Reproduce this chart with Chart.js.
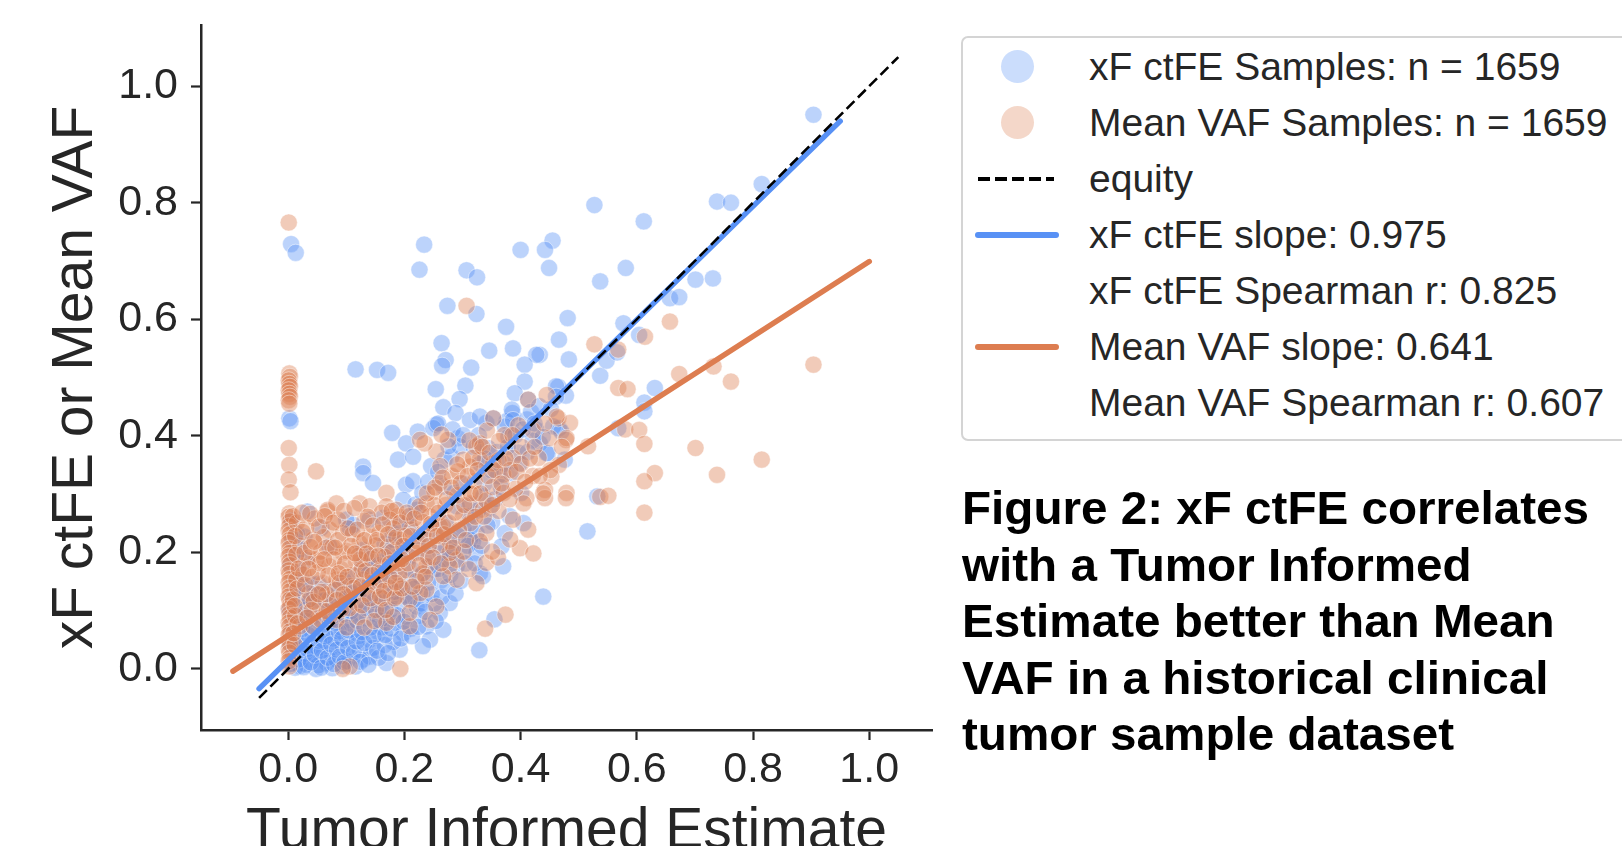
<!DOCTYPE html>
<html>
<head>
<meta charset="utf-8">
<script src="https://cdn.jsdelivr.net/npm/chart.js@4.4.1/dist/chart.umd.min.js"></script>
<style>
html,body{margin:0;padding:0;width:1622px;height:846px;overflow:hidden;background:#ffffff;}
#wrap{position:absolute;left:0;top:0;width:1622px;height:900px;}
#legendBox{position:absolute;left:961px;top:36px;width:700px;height:405px;border:2.5px solid #d4d4d4;border-radius:7px;box-sizing:border-box;background:#fff;}
.lrow{position:absolute;left:1089px;height:56px;line-height:56px;font-family:"Liberation Sans",Arial,sans-serif;font-size:39px;color:#262626;white-space:nowrap;}
.dot{position:absolute;width:33px;height:33px;border-radius:50%;}
.ln{position:absolute;height:6px;border-radius:3px;}
.dash{position:absolute;height:3.5px;background:#000;}
#caption{position:absolute;left:962px;top:480px;font-family:"Liberation Sans",Arial,sans-serif;font-weight:bold;font-size:46px;line-height:56.6px;color:#000;white-space:nowrap;transform-origin:0 0;transform:scaleX(1.035);}
</style>
</head>
<body>
<div id="wrap"><canvas id="c" width="1622" height="900"></canvas></div>
<div id="legendBox"></div>
<div id="legend"></div>
<div id="caption"></div>
<script>
// ---------------- data ----------------
const xTicks = [0.0, 0.2, 0.4, 0.6, 0.8, 1.0];
const yTicks = [0.0, 0.2, 0.4, 0.6, 0.8, 1.0];
const xTitle = 'Tumor Informed Estimate';
const yTitle = 'xF ctFE or Mean VAF';

// xF ctFE samples [tumor informed estimate, xF ctFE]
const xfPoints = [
[0.904,0.951],[0.815,0.832],[0.738,0.802],[0.762,0.800],[0.527,0.796],[0.612,0.768],[0.455,0.735],[0.442,0.719],[0.449,0.688],[0.581,0.688],
[0.537,0.665],[0.701,0.668],[0.731,0.670],[0.657,0.636],[0.673,0.638],[0.481,0.602],[0.577,0.593],[0.466,0.565],[0.433,0.539],[0.483,0.531],
[0.537,0.503],[0.548,0.529],[0.566,0.543],[0.604,0.573],[0.631,0.482],[0.613,0.457],[0.613,0.442],[0.465,0.484],[0.478,0.469],[0.568,0.413],
[0.466,0.413],[0.447,0.370],[0.476,0.359],[0.532,0.296],[0.515,0.236],
[0.005,0.729],[0.013,0.714],[0.234,0.728],[0.226,0.685],[0.307,0.684],[0.325,0.672],[0.400,0.719],[0.274,0.623],[0.324,0.609],[0.375,0.587],
[0.264,0.559],[0.346,0.546],[0.387,0.550],[0.427,0.539],[0.271,0.530],[0.265,0.520],[0.315,0.517],[0.407,0.522],[0.116,0.514],[0.153,0.513],
[0.172,0.508],[0.254,0.480],[0.305,0.486],[0.407,0.493],[0.461,0.485],[0.295,0.463],[0.267,0.449],[0.288,0.439],[0.390,0.473],[0.386,0.439],
[0.002,0.430],[0.004,0.425],[0.179,0.405],[0.223,0.407],[0.255,0.419],[0.313,0.427],[0.341,0.422],[0.376,0.425],[0.413,0.462],[0.461,0.467],
[0.203,0.387],[0.250,0.413],[0.258,0.421],[0.330,0.433],[0.353,0.430],[0.373,0.416],[0.385,0.445],[0.387,0.427],[0.427,0.410],[0.433,0.387],
[0.445,0.370],[0.456,0.416],[0.470,0.407],[0.292,0.396],[0.269,0.359],[0.281,0.364],[0.295,0.382],[0.189,0.359],[0.215,0.364],[0.203,0.316],
[0.215,0.322],[0.198,0.290],[0.221,0.273],[0.267,0.313],[0.290,0.279],[0.313,0.262],[0.336,0.296],[0.347,0.276],[0.324,0.233],[0.318,0.219],
[0.301,0.199],[0.373,0.233],[0.367,0.210],[0.370,0.176],[0.405,0.250],[0.330,0.164],[0.290,0.176],[0.250,0.170],[0.227,0.159],[0.200,0.210],
[0.180,0.233],[0.243,0.210],[0.272,0.210],[0.439,0.124],[0.129,0.347],[0.129,0.336],[0.146,0.319],[0.033,0.270],[0.355,0.085],[0.329,0.032],
[0.057,0.242],[0.028,0.227],[0.106,0.242],[0.112,0.247],[0.140,0.256],[0.163,0.259],[0.031,0.187],[0.020,0.204],[0.209,0.244],[0.226,0.227],
[0.313,0.222],[0.324,0.199],[0.335,0.159],[0.278,0.187],[0.244,0.176],[0.209,0.153],[0.192,0.142],[0.169,0.130],[0.157,0.107],[0.140,0.119],
[0.169,0.084],[0.186,0.079],[0.198,0.061],[0.157,0.061],[0.238,0.073],[0.244,0.050],[0.267,0.067],[0.278,0.113],[0.261,0.096],[0.169,0.010],
[0.123,0.096],[0.117,0.061],[0.100,0.050],[0.083,0.061],[0.071,0.033],[0.054,0.021],[0.037,0.016],[0.020,0.005],[0.008,0.021],[0.002,0.044],
[0.014,0.073],[0.025,0.050],[0.043,0.039],[0.066,0.010],[0.083,0.016],[0.106,0.021],[0.123,0.033],[0.129,0.016],[0.094,0.005],[0.048,0.000],
[0.031,0.007],[0.140,0.050],[0.140,0.021],[0.094,0.039],[0.060,0.061],[0.043,0.090],[0.002,0.101],[0.025,0.107],[0.083,0.101],[0.106,0.084],
[0.094,0.119],[0.071,0.136],[0.037,0.147],[0.112,0.159],[0.140,0.176],[0.175,0.159],[0.169,0.187],[0.209,0.193],[0.215,0.119],[0.203,0.090],
[0.221,0.107],[0.175,0.119],[0.192,0.033],[0.232,0.039],[0.129,0.204],[0.071,0.210],[0.100,0.256],
[0.010,0.011],[0.016,0.032],[0.029,0.026],[0.051,0.036],[0.062,0.046],[0.077,0.052],[0.091,0.071],[0.109,0.077],[0.121,0.056],[0.136,0.087],
[0.151,0.094],[0.161,0.071],[0.176,0.101],[0.181,0.046],[0.201,0.126],[0.211,0.069],[0.226,0.091],[0.231,0.131],[0.252,0.112],[0.262,0.151],
[0.005,0.062],[0.008,0.081],[0.006,0.122],[0.011,0.151],[0.004,0.178],[0.007,0.221],[0.012,0.002],[0.052,0.006],[0.076,0.001],[0.101,0.013],
[0.116,0.004],[0.146,0.036],[0.156,0.019],[0.166,0.041],[0.191,0.111],[0.061,0.076],[0.082,0.079],[0.099,0.092],[0.041,0.061],[0.031,0.082],
[0.021,0.121],[0.049,0.118],[0.069,0.097],[0.121,0.131],[0.132,0.114],[0.151,0.141],[0.162,0.158],[0.186,0.171],[0.196,0.199],[0.212,0.171],
[0.236,0.196],[0.251,0.238],[0.271,0.251],[0.286,0.302],[0.302,0.318],[0.311,0.281],[0.331,0.352],[0.344,0.379],[0.361,0.331],[0.379,0.398],
[0.396,0.371],[0.411,0.428],[0.421,0.392],[0.351,0.252],[0.401,0.302],[0.381,0.262],[0.302,0.241],[0.281,0.222],[0.262,0.198],
[0.004,0.008],[0.009,0.037],[0.013,0.055],[0.018,0.016],[0.022,0.042],[0.024,0.068],[0.027,0.003],[0.033,0.034],[0.035,0.058],[0.039,0.011],
[0.044,0.071],[0.046,0.024],[0.053,0.048],[0.057,0.002],[0.058,0.031],[0.064,0.056],[0.068,0.019],[0.072,0.081],[0.074,0.042],[0.079,0.008],
[0.084,0.033],[0.087,0.064],[0.089,0.021],[0.093,0.052],[0.097,0.011],[0.103,0.036],[0.104,0.066],[0.108,0.099],[0.113,0.028],[0.118,0.047],
[0.119,0.082],[0.124,0.012],[0.127,0.063],[0.131,0.044],[0.134,0.104],[0.138,0.007],[0.142,0.071],[0.147,0.056],[0.149,0.118],[0.153,0.031],
[0.158,0.083],[0.163,0.098],[0.167,0.058],[0.172,0.027],[0.178,0.069],[0.183,0.132],[0.188,0.092],[0.194,0.052],[0.199,0.081],[0.206,0.121],
[0.213,0.056],[0.218,0.138],[0.224,0.072],[0.229,0.112],[0.236,0.098],[0.241,0.148],[0.247,0.128],[0.254,0.082],[0.258,0.171],[0.264,0.123],
[0.268,0.188],[0.274,0.141],[0.279,0.161],[0.284,0.201],[0.288,0.129],[0.293,0.228],[0.297,0.151],[0.305,0.181],[0.309,0.211],[0.316,0.245],
[0.321,0.181],[0.327,0.272],[0.333,0.211],[0.338,0.318],[0.343,0.246],[0.349,0.341],[0.356,0.291],[0.359,0.372],[0.366,0.312],[0.372,0.352],
[0.378,0.381],[0.383,0.336],[0.391,0.401],[0.398,0.352],[0.404,0.411],[0.412,0.372],[0.418,0.441],[0.424,0.421],[0.432,0.451],[0.438,0.398],
[0.452,0.446],[0.016,0.092],[0.028,0.101],[0.038,0.118],[0.011,0.132],[0.019,0.165],[0.009,0.195],[0.015,0.232],[0.006,0.255],[0.027,0.141],
[0.045,0.128],[0.052,0.146],[0.064,0.118],[0.077,0.112],[0.088,0.138],[0.096,0.152],[0.107,0.131],[0.117,0.142],[0.128,0.178],[0.137,0.161],
[0.146,0.192],[0.156,0.178],[0.166,0.215],[0.174,0.199],[0.182,0.221],[0.191,0.248],[0.207,0.262],[0.219,0.282],[0.231,0.302],[0.241,0.321],
[0.246,0.348],[0.258,0.338],[0.276,0.382],[0.283,0.411],[0.301,0.401],[0.319,0.381],[0.328,0.401],[0.339,0.361]
];

// Mean VAF samples [tumor informed estimate, mean VAF]
const vafPoints = [
[0.001,0.766],[0.002,0.507],[0.003,0.501],[0.001,0.495],[0.002,0.489],[0.003,0.484],[0.001,0.478],[0.002,0.472],[0.003,0.467],[0.001,0.461],
[0.002,0.455],[0.001,0.379],[0.002,0.350],[0.001,0.325],[0.004,0.303],[0.002,0.267],[0.001,0.261],[0.003,0.253],[0.002,0.245],[0.001,0.237],
[0.003,0.231],[0.002,0.221],[0.001,0.216],[0.002,0.206],[0.003,0.199],[0.001,0.193],[0.002,0.184],[0.003,0.178],[0.001,0.169],[0.002,0.163],
[0.003,0.154],[0.001,0.148],[0.002,0.139],[0.003,0.133],[0.001,0.124],[0.002,0.118],[0.003,0.109],[0.001,0.103],[0.002,0.094],[0.003,0.088],
[0.001,0.079],[0.002,0.073],[0.003,0.064],[0.001,0.058],[0.002,0.049],[0.003,0.043],[0.001,0.034],[0.002,0.028],[0.003,0.019],[0.001,0.013],
[0.002,0.004],
[0.048,0.339],[0.068,0.270],[0.307,0.623],
[0.657,0.596],[0.527,0.557],[0.614,0.570],[0.568,0.548],[0.904,0.522],[0.732,0.519],[0.673,0.506],[0.762,0.493],[0.568,0.482],[0.584,0.480],
[0.445,0.470],[0.465,0.430],[0.485,0.422],[0.450,0.396],[0.478,0.393],[0.580,0.411],[0.604,0.410],[0.613,0.386],[0.516,0.382],[0.701,0.379],
[0.815,0.359],[0.466,0.350],[0.453,0.330],[0.631,0.336],[0.738,0.333],[0.613,0.322],[0.442,0.307],[0.442,0.293],[0.479,0.302],[0.478,0.293],
[0.537,0.295],[0.551,0.297],[0.613,0.268],[0.413,0.462],[0.353,0.430],[0.462,0.433],
[0.479,0.396],[0.387,0.362],[0.370,0.333],[0.353,0.353],[0.330,0.359],[0.313,0.347],[0.324,0.382],[0.301,0.359],[0.275,0.393],[0.255,0.373],
[0.235,0.387],[0.227,0.393],[0.439,0.301],[0.410,0.293],[0.405,0.284],[0.387,0.256],[0.413,0.239],[0.399,0.207],[0.422,0.198],[0.341,0.233],
[0.341,0.182],[0.290,0.187],[0.278,0.176],[0.290,0.153],[0.261,0.319],[0.252,0.304],[0.238,0.284],[0.243,0.262],[0.169,0.302],[0.169,0.279],
[0.189,0.262],[0.212,0.239],[0.215,0.210],[0.192,0.187],[0.238,0.176],[0.261,0.245],[0.301,0.262],[0.313,0.284],[0.330,0.219],[0.321,0.301],
[0.278,0.219],[0.192,0.142],[0.227,0.130],[0.374,0.093],[0.339,0.069],[0.193,0.000],[0.264,0.402],[0.330,0.387],
[0.068,0.273],[0.083,0.284],[0.123,0.284],[0.140,0.279],[0.186,0.273],[0.226,0.279],[0.043,0.222],[0.071,0.239],[0.094,0.233],[0.123,0.216],
[0.140,0.227],[0.157,0.233],[0.192,0.222],[0.175,0.256],[0.209,0.262],[0.244,0.239],[0.267,0.244],[0.278,0.199],[0.267,0.159],[0.238,0.136],
[0.255,0.107],[0.209,0.119],[0.186,0.124],[0.232,0.164],[0.221,0.199],[0.163,0.176],[0.140,0.199],[0.117,0.182],[0.094,0.199],[0.071,0.176],
[0.048,0.187],[0.025,0.176],[0.014,0.153],[0.037,0.130],[0.060,0.147],[0.083,0.153],[0.106,0.142],[0.129,0.153],[0.152,0.142],[0.031,0.096],
[0.054,0.107],[0.071,0.119],[0.020,0.073],[0.008,0.119],[0.043,0.073],[0.083,0.084],[0.117,0.113],[0.140,0.147],[0.169,0.079],[0.209,0.073],
[0.106,0.004],[0.094,0.000],[0.209,0.096],[0.244,0.084],[0.324,0.147],[0.313,0.250],[0.335,0.273],
[0.015,0.251],[0.021,0.211],[0.031,0.242],[0.036,0.191],[0.046,0.258],[0.056,0.201],[0.061,0.226],[0.076,0.209],[0.086,0.256],[0.101,0.202],
[0.111,0.231],[0.121,0.194],[0.131,0.254],[0.151,0.212],[0.161,0.268],[0.171,0.209],[0.181,0.241],[0.201,0.228],[0.016,0.138],[0.026,0.162],
[0.036,0.119],[0.051,0.166],[0.066,0.128],[0.081,0.136],[0.091,0.171],[0.101,0.124],[0.111,0.161],[0.126,0.169],[0.136,0.129],[0.161,0.151],
[0.176,0.139],[0.191,0.162],[0.202,0.169],[0.012,0.091],[0.041,0.101],[0.056,0.084],[0.066,0.099],[0.091,0.102],
[0.101,0.071],[0.121,0.089],[0.151,0.101],[0.162,0.121],[0.181,0.089],[0.011,0.041],
[0.131,0.071],[0.221,0.151],[0.241,0.191],[0.261,0.212],[0.271,0.281],[0.291,0.298],[0.302,0.201],
[0.321,0.322],[0.341,0.289],[0.352,0.312],[0.362,0.358],[0.371,0.302],[0.382,0.341],[0.391,0.309],[0.401,0.352],[0.421,0.331],[0.431,0.362],
[0.451,0.341],[0.471,0.381],[0.362,0.271],[0.282,0.331],[0.252,0.281],[0.232,0.252],[0.262,0.348],[0.292,0.339],[0.312,0.392],[0.342,0.409],
[0.372,0.401],[0.396,0.418],[0.421,0.409],[0.441,0.421],[0.382,0.222],[0.361,0.191],[0.311,0.171],[0.351,0.201],
[0.008,0.262],[0.012,0.228],[0.014,0.196],[0.018,0.172],[0.011,0.108],[0.016,0.078],[0.009,0.061],[0.024,0.268],[0.028,0.199],[0.029,0.145],
[0.033,0.088],[0.038,0.266],[0.039,0.209],[0.042,0.158],[0.044,0.115],[0.053,0.244],[0.055,0.181],[0.058,0.132],
[0.063,0.262],[0.066,0.208],[0.069,0.161],[0.072,0.091],[0.078,0.251],[0.079,0.188],[0.084,0.118],[0.086,0.221],[0.089,0.148],
[0.096,0.271],[0.098,0.181],[0.103,0.241],[0.105,0.104],[0.108,0.211],[0.113,0.139],[0.114,0.276],[0.119,0.239],
[0.124,0.188],[0.127,0.109],[0.131,0.221],[0.133,0.168],[0.137,0.261],[0.141,0.121],[0.143,0.189],[0.146,0.246],[0.148,0.082],[0.153,0.221],
[0.156,0.168],[0.158,0.124],[0.163,0.248],[0.166,0.192],[0.168,0.101],[0.172,0.231],[0.174,0.158],[0.178,0.271],[0.179,0.201],[0.183,0.121],
[0.186,0.226],[0.188,0.181],[0.193,0.251],[0.196,0.138],[0.198,0.211],[0.204,0.268],[0.206,0.181],[0.211,0.228],[0.214,0.141],[0.217,0.258],
[0.223,0.218],[0.226,0.178],[0.229,0.268],[0.233,0.231],[0.236,0.158],[0.239,0.301],[0.242,0.211],[0.246,0.249],[0.249,0.191],[0.253,0.311],
[0.256,0.228],[0.259,0.268],[0.263,0.181],[0.266,0.328],[0.268,0.231],[0.273,0.291],[0.276,0.251],[0.281,0.311],[0.284,0.208],[0.287,0.268],
[0.291,0.351],[0.294,0.238],[0.297,0.319],[0.303,0.281],[0.306,0.221],[0.309,0.331],[0.314,0.301],[0.318,0.362],[0.322,0.261],[0.326,0.341],
[0.331,0.301],[0.334,0.381],[0.337,0.261],[0.344,0.331],[0.347,0.371],[0.351,0.281],[0.356,0.341],[0.363,0.391],[0.367,0.318],[0.374,0.361],
[0.381,0.291],[0.386,0.401],[0.393,0.338],[0.402,0.381],[0.408,0.321],[0.416,0.361],[0.424,0.381],[0.433,0.331],[0.025,0.235],[0.045,0.218],
[0.035,0.172],[0.052,0.128],[0.062,0.188],[0.081,0.208],[0.087,0.164],[0.095,0.128],[0.102,0.158],[0.115,0.198],[0.125,0.142],[0.135,0.198],
[0.145,0.161],[0.155,0.194],[0.165,0.134],[0.175,0.181],[0.185,0.148],[0.195,0.188]
];

// fitted / reference lines (end points)
const equityLine = [[-0.05,-0.05],[1.05,1.05]];
const xfFitLine = [[-0.05,-0.034],[0.95,0.940]];
const vafFitLine = [[-0.095,-0.004],[1.0,0.699]];

const legendLabels = [
  'xF ctFE Samples: n = 1659',
  'Mean VAF Samples: n = 1659',
  'equity',
  'xF ctFE slope: 0.975',
  'xF ctFE Spearman r: 0.825',
  'Mean VAF slope: 0.641',
  'Mean VAF Spearman r: 0.607'
];
const legendKinds = ['dotBlue','dotOrange','dash','lineBlue','none','lineOrange','none'];
const captionLines = [
  'Figure 2: xF ctFE correlates',
  'with a Tumor Informed',
  'Estimate better than Mean',
  'VAF in a historical clinical',
  'tumor sample dataset'
];

// ---------------- styles ----------------
const BLUE = 'rgb(88,145,245)';
const BLUE_A = 'rgba(88,145,245,0.40)';
const ORANGE = 'rgb(221,125,80)';
const ORANGE_A = 'rgba(221,125,80,0.40)';
const INK = '#262626';
const FONT = "'Liberation Sans', Arial, Helvetica, sans-serif";

const toXY = arr => arr.map(p => ({x: p[0], y: p[1]}));

Chart.defaults.font.family = FONT;
Chart.defaults.color = INK;

const chart = new Chart(document.getElementById('c'), {
  type: 'scatter',
  data: {
    datasets: [
      { label: legendLabels[0], data: toXY(xfPoints), order: 5,
        backgroundColor: BLUE_A, borderColor: 'rgba(255,255,255,0.45)', borderWidth: 1, pointRadius: 8.6 },
      { label: legendLabels[1], data: toXY(vafPoints), order: 4,
        backgroundColor: ORANGE_A, borderColor: 'rgba(255,255,255,0.45)', borderWidth: 1, pointRadius: 8.6 },
      { label: legendLabels[3], data: toXY(xfFitLine), order: 3, showLine: true, pointRadius: 0,
        borderColor: BLUE, borderWidth: 5.5, borderCapStyle: 'round' },
      { label: legendLabels[5], data: toXY(vafFitLine), order: 2, showLine: true, pointRadius: 0,
        borderColor: ORANGE, borderWidth: 5.5, borderCapStyle: 'round' },
      { label: legendLabels[2], data: toXY(equityLine), order: 1, showLine: true, pointRadius: 0,
        borderColor: '#000', borderWidth: 2.6, borderDash: [11, 5] }
    ]
  },
  options: {
    responsive: false,
    animation: false,
    devicePixelRatio: 1,
    events: [],
    layout: { padding: { left: 0, top: 25, right: 690, bottom: 0 } },
    plugins: { legend: { display: false }, tooltip: { enabled: false } },
    scales: {
      x: {
        type: 'linear', min: -0.15, max: 1.108,
        afterBuildTicks: s => { s.ticks = xTicks.map(v => ({value: v})); },
        afterFit: s => { s.height = 170; s.paddingLeft = 0; s.paddingRight = 0; },
        ticks: { callback: v => Number(v).toFixed(1), font: { size: 43, lineHeight: 1 }, color: INK,
                 padding: 8.5, autoSkip: false, maxRotation: 0 },
        grid: { drawOnChartArea: false, drawTicks: true, tickLength: 10, tickWidth: 2.2, tickColor: INK },
        border: { display: true, color: INK, width: 2.5 },
        title: { display: true, text: xTitle, font: { size: 57, lineHeight: 1 }, color: INK,
                 padding: { top: 0, bottom: 39 } }
      },
      y: {
        type: 'linear', min: -0.105, max: 1.105,
        afterBuildTicks: s => { s.ticks = yTicks.map(v => ({value: v})); },
        afterFit: s => { s.width = 201; s.paddingTop = 0; s.paddingBottom = 0; },
        ticks: { callback: v => Number(v).toFixed(1), font: { size: 43, lineHeight: 1 }, color: INK,
                 padding: 13, autoSkip: false },
        grid: { drawOnChartArea: false, drawTicks: true, tickLength: 10, tickWidth: 2.2, tickColor: INK },
        border: { display: true, color: INK, width: 2.5 },
        title: { display: true, text: yTitle, font: { size: 57, lineHeight: 1 }, color: INK,
                 padding: { top: 48, bottom: 0 } }
      }
    }
  }
});

// ---------------- legend (HTML, from the dataset styles) ----------------
const legend = document.getElementById('legend');
const rowCenter0 = 66.7, rowStep = 56.1;
legendLabels.forEach((txt, i) => {
  const cy = rowCenter0 + i * rowStep;
  const kind = legendKinds[i];
  if (kind === 'dotBlue' || kind === 'dotOrange') {
    const d = document.createElement('div');
    d.className = 'dot';
    d.style.left = (1017 - 16.5) + 'px';
    d.style.top = (cy - 16.5) + 'px';
    d.style.background = kind === 'dotBlue' ? 'rgba(88,145,245,0.31)' : 'rgba(221,125,80,0.31)';
    legend.appendChild(d);
  } else if (kind === 'lineBlue' || kind === 'lineOrange') {
    const d = document.createElement('div');
    d.className = 'ln';
    d.style.left = '975px'; d.style.width = '84px';
    d.style.top = (cy - 3) + 'px';
    d.style.background = kind === 'lineBlue' ? BLUE : ORANGE;
    legend.appendChild(d);
  } else if (kind === 'dash') {
    for (let k = 0; k < 5; k++) {
      const d = document.createElement('div');
      d.className = 'dash';
      d.style.left = (978 + k * 17) + 'px';
      d.style.width = (k === 4 ? 8 : 12) + 'px';
      d.style.top = (cy - 1.75) + 'px';
      legend.appendChild(d);
    }
  }
  const t = document.createElement('div');
  t.className = 'lrow';
  t.style.top = (cy - 28) + 'px';
  t.textContent = txt;
  legend.appendChild(t);
});

// ---------------- caption ----------------
document.getElementById('caption').innerHTML = captionLines.map(s => '<div>' + s + '</div>').join('');
</script>
</body>
</html>
